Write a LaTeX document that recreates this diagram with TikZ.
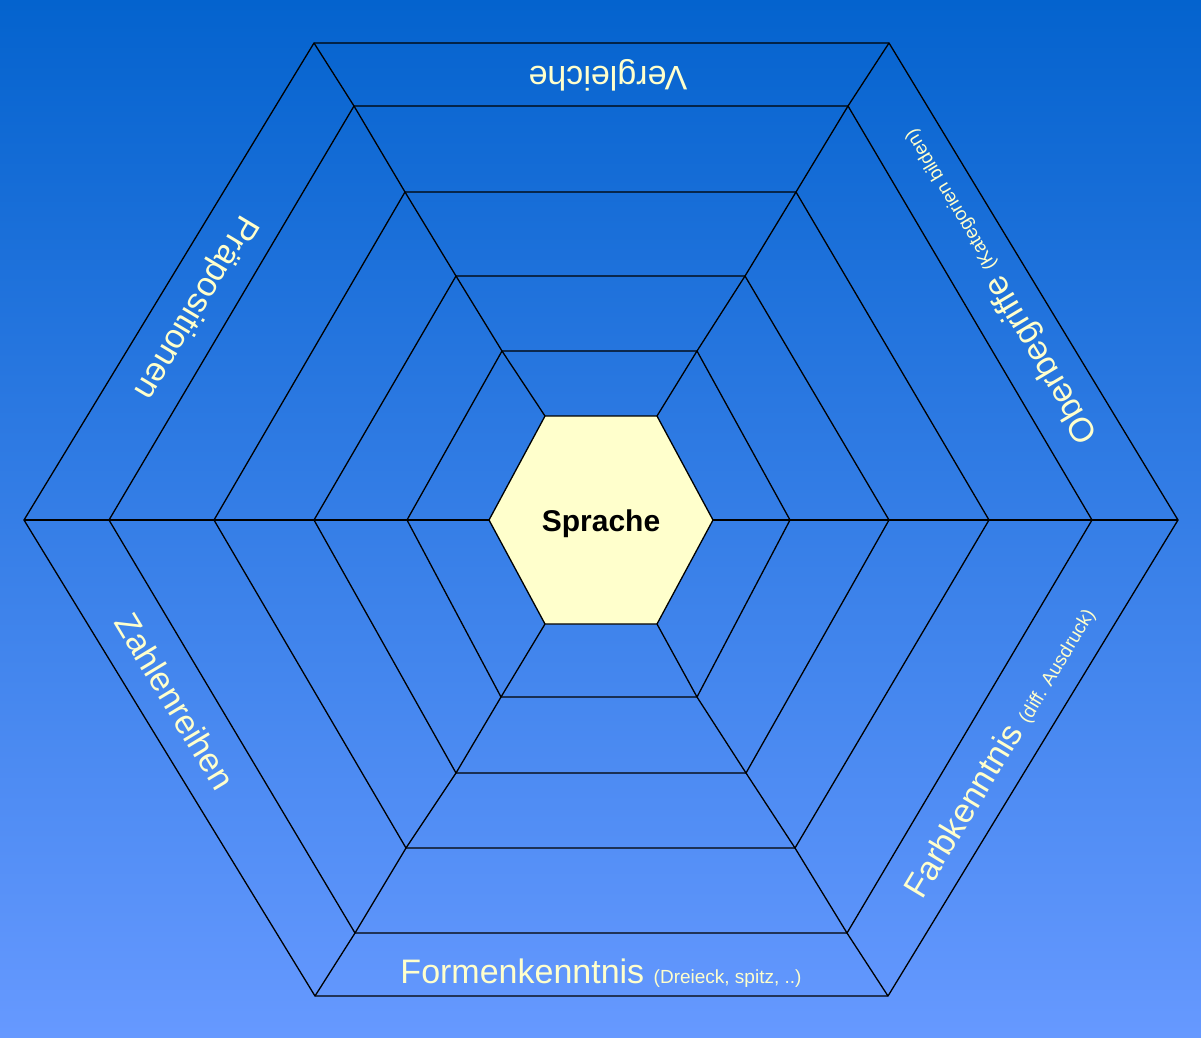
\documentclass[tikz,border=0pt]{standalone}
\usepackage{fontspec}
\setmainfont{Liberation Sans}
\definecolor{bgtop}{RGB}{4,99,206}
\definecolor{bgbot}{RGB}{102,153,255}
\definecolor{cream}{RGB}{255,255,204}
\tikzset{
  web/.style={draw=black, line width=1.3pt, line join=miter},
  bandlabel/.style={text=cream, inner sep=0pt, font=\fontsize{34}{40}\selectfont},
  centerlabel/.style={text=black, inner sep=0pt, font=\fontsize{30}{36}\selectfont\bfseries}
}
\newcommand{\smalltxt}[1]{{\fontsize{19}{23}\selectfont #1}}
\begin{document}
\begin{tikzpicture}[x=1pt,y=-1pt]
\useasboundingbox (0,0) rectangle (1201,1037);
\fill[top color=bgtop, bottom color=bgbot] (0,0) rectangle (1201,1037);
% hexagon vertices
\coordinate (h1L) at (24,520);  \coordinate (h1TL) at (314,43);  \coordinate (h1TR) at (889,43);
\coordinate (h1R) at (1178,520); \coordinate (h1BR) at (888,996); \coordinate (h1BL) at (315,996);
\coordinate (h2L) at (109,520); \coordinate (h2TL) at (354,106); \coordinate (h2TR) at (848,106);
\coordinate (h2R) at (1092,520); \coordinate (h2BR) at (847,933); \coordinate (h2BL) at (355,933);
\coordinate (h3L) at (214,520); \coordinate (h3TL) at (405,192); \coordinate (h3TR) at (796,192);
\coordinate (h3R) at (989,520); \coordinate (h3BR) at (795,848); \coordinate (h3BL) at (406,848);
\coordinate (h4L) at (314,520); \coordinate (h4TL) at (456,276); \coordinate (h4TR) at (745,276);
\coordinate (h4R) at (889,520); \coordinate (h4BR) at (746,773); \coordinate (h4BL) at (456,773);
\coordinate (h5L) at (407,520); \coordinate (h5TL) at (502,351); \coordinate (h5TR) at (697,351);
\coordinate (h5R) at (790,520); \coordinate (h5BR) at (697,697); \coordinate (h5BL) at (501,697);
\coordinate (h6L) at (489,520); \coordinate (h6TL) at (545,416); \coordinate (h6TR) at (657,416);
\coordinate (h6R) at (713,520); \coordinate (h6BR) at (657,624); \coordinate (h6BL) at (545,624);
% rings
\foreach \i in {1,...,5}{
  \draw[web] (h\i L)--(h\i TL)--(h\i TR)--(h\i R)--(h\i BR)--(h\i BL)--cycle;
}
% spokes
\foreach \v in {L,TL,TR,R,BR,BL}{
  \draw[web] (h1\v)--(h2\v)--(h3\v)--(h4\v)--(h5\v)--(h6\v);
}
% centre
\draw[web, fill=cream] (h6L)--(h6TL)--(h6TR)--(h6R)--(h6BR)--(h6BL)--cycle;
\node[centerlabel] (sprache) at (601,524) {Sprache};
% band labels
\node[bandlabel, rotate=180] (vergleiche) at (608,75) {Vergleiche};
\node[bandlabel, rotate=-121.0] (praep) at (195,307) {Präpositionen};
\node[bandlabel, rotate=120.9] (ober) at (999,286) {Oberbegriffe \smalltxt{(Kategorien bilden)}};
\node[bandlabel, rotate=58.96] (farb) at (1000,752) {Farbkenntnis \smalltxt{(diff. Ausdruck)}};
\node[bandlabel, rotate=-58.9] (zahlen) at (175,701) {Zahlenreihen};
\node[bandlabel, anchor=base] (formen) at (601,983) {Formenkenntnis \smalltxt{(Dreieck, spitz, ..)}};
\end{tikzpicture}
\end{document}
